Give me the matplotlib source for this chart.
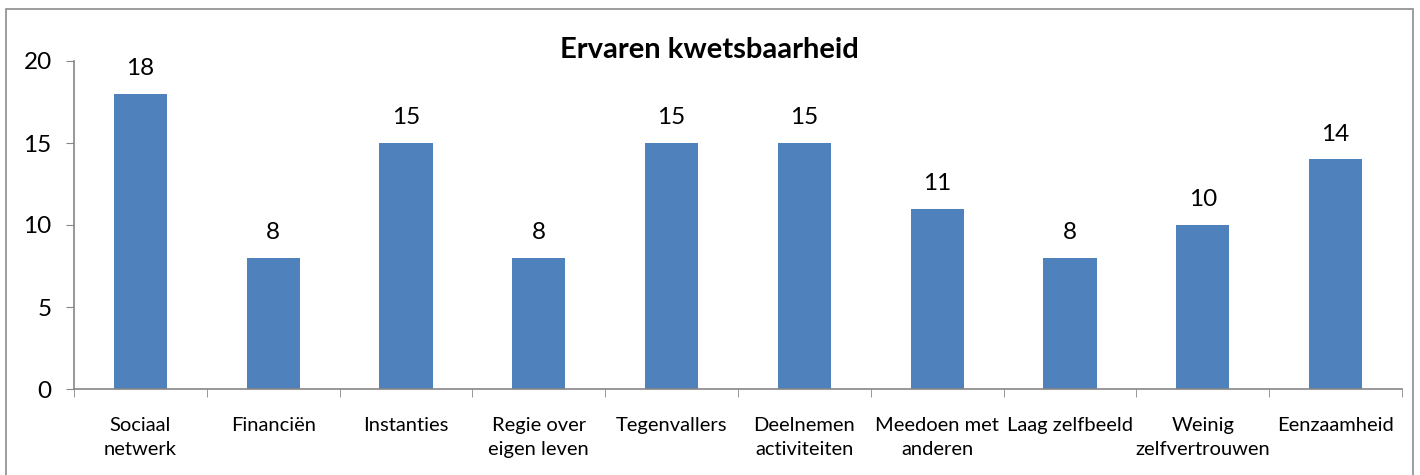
import numpy as np
import matplotlib.pyplot as plt
from matplotlib.patches import Rectangle

plt.rcParams['font.family'] = ['Lato', 'DejaVu Sans']

categories = ["Sociaal\nnetwerk", "Financiën", "Instanties", "Regie over\neigen leven",
              "Tegenvallers", "Deelnemen\nactiviteiten", "Meedoen met\nanderen",
              "Laag zelfbeeld", "Weinig\nzelfvertrouwen", "Eenzaamheid"]
values = [18, 8, 15, 8, 15, 15, 11, 8, 10, 14]

W, H = 1420, 475
fig = plt.figure(figsize=(W / 100, H / 100), dpi=100)
ax = fig.add_axes([74 / W, 1 - 389 / H, (1402 - 74) / W, (389 - 61) / H])

# outer chart frame (bottom edge runs off the image)
fig.patches.append(Rectangle((6 / W, -0.05), (1413 - 6) / W, 1.05 - 9 / H,
                             transform=fig.transFigure, fill=False,
                             edgecolor="#8c8c8c", linewidth=1.2))

x = np.arange(len(values))
bars = ax.bar(x, values, width=0.4, color="#4f81bd")
for xi, v in zip(x, values):
    ax.text(xi, v + 0.9, str(v), ha="center", va="bottom", fontsize=17.5)

ax.set_xlim(-0.5, len(values) - 0.5)
ax.set_ylim(0, 20)
ax.set_yticks([0, 5, 10, 15, 20])
ax.tick_params(axis="y", labelsize=17.5, length=6, color="#868686", pad=10)

ax.set_xticks(x)
ax.set_xticklabels(categories, fontsize=14.5, linespacing=1.5)
ax.tick_params(axis="x", length=0, pad=20)
ax.set_xticks(np.arange(-0.5, len(values)), minor=True)
ax.tick_params(axis="x", which="minor", length=6, color="#868686")

for s in ["top", "right"]:
    ax.spines[s].set_visible(False)
for s in ["left", "bottom"]:
    ax.spines[s].set_color("#868686")
    ax.spines[s].set_linewidth(1.2)

fig.text(709 / W, 1 - 50 / H, "Ervaren kwetsbaarheid", ha="center", va="center",
         fontsize=21, fontweight="bold")

plt.savefig("out.png", dpi=100)
